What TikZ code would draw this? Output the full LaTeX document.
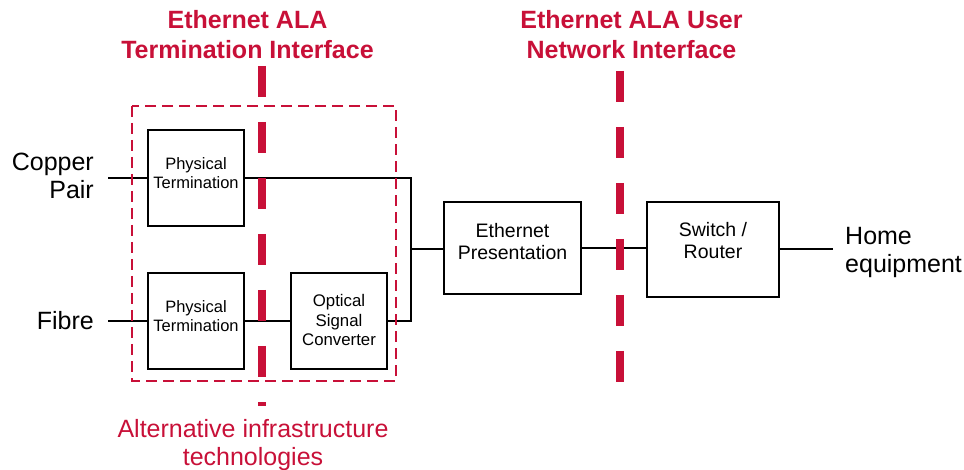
\documentclass[tikz,border=0pt]{standalone}
\usepackage{fontspec}
\setmainfont{Liberation Sans}
\definecolor{alared}{RGB}{200,16,56}
\begin{document}
\begin{tikzpicture}[x=1pt,y=-1pt,
  blk/.style={draw=black,line width=1.5pt,minimum width=#1,inner sep=0pt},
  boxtxt/.style={align=center,inner sep=0pt,font=\fontsize{16.5}{19}\selectfont},
  bigtxt/.style={align=center,inner sep=0pt,font=\fontsize{19.5}{22}\selectfont},
  sidetxt/.style={inner sep=0pt,font=\fontsize{25}{28}\selectfont},
  title/.style={align=center,inner sep=0pt,text=alared,font=\bfseries\fontsize{25}{30}\selectfont},
  wire/.style={draw=black,line width=1.3pt},
  iface/.style={draw=alared,line width=7.5pt,dash pattern=on 31pt off 25pt},
  group/.style={draw=alared,line width=1.3pt,dash pattern=on 11pt off 6pt}]
\useasboundingbox (0,0) rectangle (964,470);

% headings
\node[title] (t1) at (247.5,35) {Ethernet ALA\\Termination Interface};
\node[title] (t2) at (631.5,35) {Ethernet ALA User\\Network Interface};

% side labels
\node[sidetxt,align=right,anchor=east] (cu) at (94,176) {Copper\\Pair};
\node[sidetxt,anchor=east] (fi) at (94,321) {Fibre};
\node[sidetxt,align=left,anchor=west] (home) at (845,252) {Home\\equipment};

% blocks
\node[blk=96pt,minimum height=96pt] (pt1) at (196,178) {};
\node[blk=96pt,minimum height=96pt] (pt2) at (196,321) {};
\node[blk=96pt,minimum height=96pt] (osc) at (339,321) {};
\node[blk=137pt,minimum height=92pt] (eth) at (512.5,248) {};
\node[blk=132pt,minimum height=95pt] (sw) at (713,249.5) {};

\node[boxtxt] (pt1t) at (196,173.5) {Physical\\Termination};
\node[boxtxt] (pt2t) at (196,316.5) {Physical\\Termination};
\node[boxtxt,font=\fontsize{16.8}{19.5}\selectfont] (osct) at (339,320) {Optical\\Signal\\Converter};
\node[bigtxt] (etht) at (512.5,242) {Ethernet\\Presentation};
\node[bigtxt] (swt) at (713,241) {Switch /\\Router};

% connector end points
\coordinate (cuin) at (108,178);
\coordinate (fiin) at (108,321);
\coordinate (jt) at (411,178);
\coordinate (jb) at (411,321);
\coordinate (jm) at (411,249);
\coordinate (out) at (833,249);

% wiring
\draw[wire] (cuin) -- (pt1.west);
\draw[wire] (fiin) -- (pt2.west);
\draw[wire] (pt1.east) -- (jt) -- (jb) -- (osc.east);
\draw[wire] (pt2.east) -- (osc.west);
\draw[wire] (jm) -- (eth.west |- jm);
\draw[wire] (eth.east) -- (sw.west |- eth.east);
\draw[wire] (sw.east |- out) -- (out);

% alternative infrastructure group
\coordinate (g1) at (132,106);
\coordinate (g2) at (396,381);
\draw[group] (g1) rectangle (g2);
\node[sidetxt,align=center,text=alared] (alt) at (253,445) {Alternative infrastructure\\technologies};

% interface boundaries
\coordinate (i1a) at (262,66);
\coordinate (i1b) at (262,406);
\coordinate (i2a) at (620,71);
\coordinate (i2b) at (620,382);
\draw[iface] (i1a) -- (i1b);
\draw[iface] (i2a) -- (i2b);
\end{tikzpicture}
\end{document}
